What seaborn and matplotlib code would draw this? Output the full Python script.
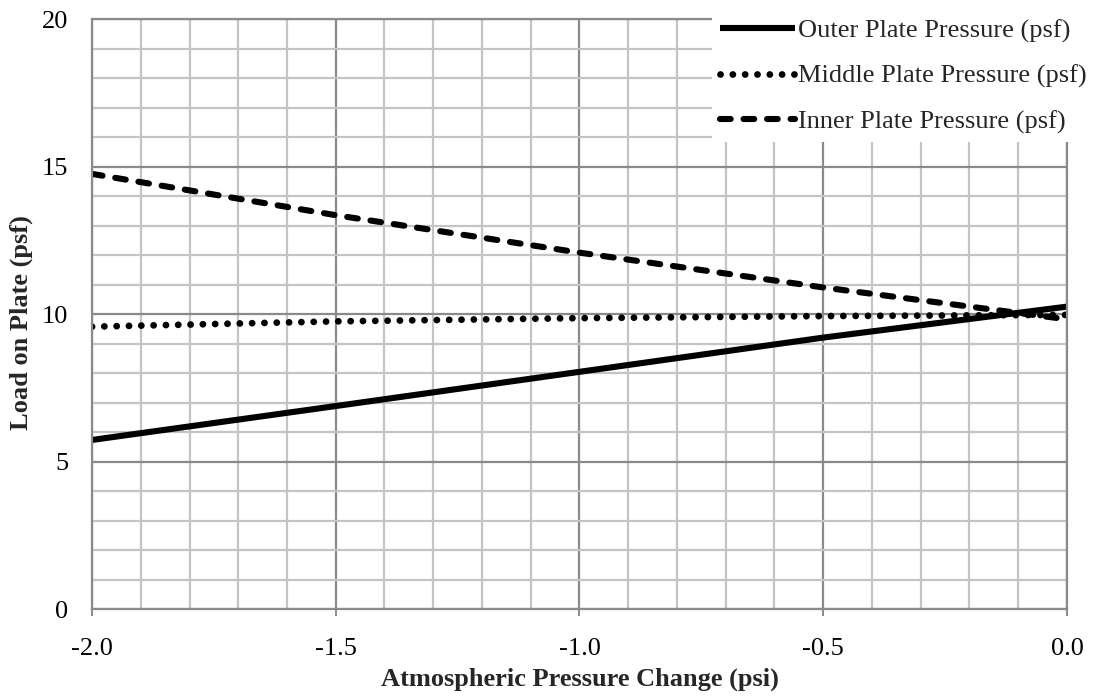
import matplotlib
matplotlib.use("Agg")
import matplotlib.pyplot as plt
import seaborn as sns
import numpy as np
from matplotlib.ticker import MultipleLocator

x_psi = [-2.0, -1.5, -1.0, -0.5, 0.0]
outer = [5.73, 6.88, 8.04, 9.20, 10.25]
middle = [9.57, 9.75, 9.86, 9.93, 9.97]
inner = [14.75, 13.35, 12.08, 10.90, 9.82]
labels = ["Outer Plate Pressure (psf)", "Middle Plate Pressure (psf)", "Inner Plate Pressure (psf)"]
xticks = [-2.0, -1.5, -1.0, -0.5, 0.0]
yticks = [0, 5, 10, 15, 20]

sns.set_theme(style="white")
plt.rcParams['font.family'] = ['Liberation Serif', 'DejaVu Serif']
FS = 19

fig = plt.figure(figsize=(10.94, 6.96), dpi=100)
ax = fig.add_axes([0.0841, 0.125, 0.9753 - 0.0841, 0.9727 - 0.125])

sns.lineplot(x=x_psi, y=outer, ax=ax, color="black", lw=4.4, label=labels[0])
ax.lines[-1].set_solid_capstyle("butt")
sns.lineplot(x=x_psi, y=middle, ax=ax, color="black", lw=4.9, label=labels[1])
ax.lines[-1].set_linestyle((0, (0.01, 1.8)))
ax.lines[-1].set_dash_capstyle("round")
sns.lineplot(x=x_psi, y=inner, ax=ax, color="black", lw=4.4, label=labels[2])
ax.lines[-1].set_linestyle((0, (1.75, 2.1)))
ax.lines[-1].set_dash_capstyle("round")

ax.set_xlim(-2.0, 0.0)
ax.set_ylim(0, 20)
ax.xaxis.set_major_locator(MultipleLocator(0.5))
ax.xaxis.set_minor_locator(MultipleLocator(0.1))
ax.yaxis.set_major_locator(MultipleLocator(5))
ax.yaxis.set_minor_locator(MultipleLocator(1))
ax.set_xticks(xticks)
ax.set_xticklabels([f"{v:.1f}" for v in xticks])
ax.set_yticks(yticks)
ax.set_yticklabels([str(v) for v in yticks])

ax.grid(which="minor", color="#c4c4c4", lw=1.6)
ax.grid(which="major", color="#8a8a8a", lw=1.6)
ax.set_axisbelow(True)
for s in ["left", "bottom", "right", "top"]:
    ax.spines[s].set_color("#8a8a8a")
    ax.spines[s].set_linewidth(1.6)

ax.tick_params(axis="x", which="major", bottom=True, length=5, width=1.4, color="#8a8a8a",
               labelsize=FS, pad=16)
ax.tick_params(axis="x", which="minor", bottom=False)
ax.tick_params(axis="y", which="both", left=False, labelsize=FS, pad=11)
for t in ax.get_xticklabels() + ax.get_yticklabels():
    t.set_color("black")

ax.set_xlabel("Atmospheric Pressure Change (psi)", fontsize=FS, fontweight="bold", labelpad=5)
ax.set_ylabel("Load on Plate (psf)", fontsize=FS, fontweight="bold")
ax.yaxis.label.set_va("center")
ax.yaxis.set_label_coords(-0.0728, 0.485)

leg = ax.legend(loc="upper right", bbox_to_anchor=(1.013, 1.003), bbox_transform=fig.transFigure,
                frameon=True, fontsize=FS,
                handlelength=2.85, handletextpad=0.12, labelspacing=0.82, borderpad=0.3,
                fancybox=False, framealpha=1)
leg.get_frame().set_edgecolor("white")
leg.get_frame().set_linewidth(0)

fig.savefig("out.png", dpi=100)
